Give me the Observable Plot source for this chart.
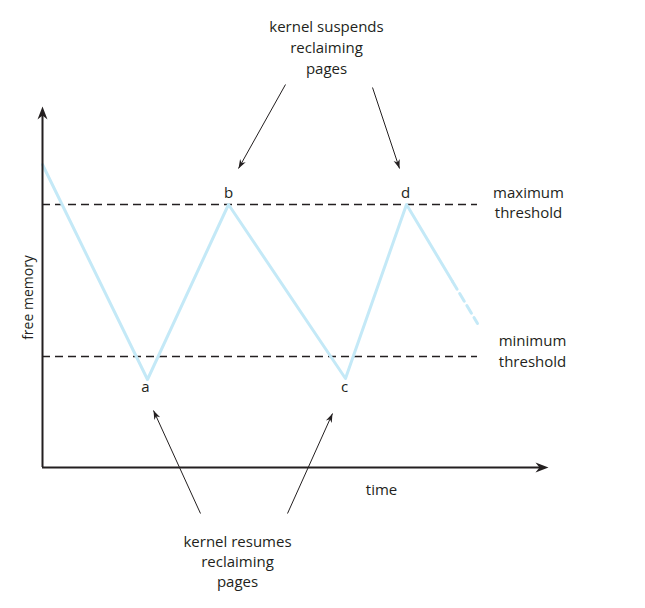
<!DOCTYPE html>
<html>
<head>
<meta charset="utf-8">
<script src="https://cdn.jsdelivr.net/npm/d3@7"></script>
<script src="https://cdn.jsdelivr.net/npm/@observablehq/plot@0.6"></script>
<style>
  html, body { margin: 0; padding: 0; background: #fff; }
  #chart svg { display: block; }
</style>
</head>
<body>
<div id="chart"></div>
<script>
// Free memory over time (abstract units)
const times  = [0, 10.5, 18.6, 30.3, 36.4, 41.0];
const memory = [30.3, 8.8, 26.3, 8.9, 26.3, 18.6];
// projected continuation (dashed)
const tailTimes  = [41.0, 43.5];
const tailMemory = [18.6, 14.4];

const maxThreshold = 26.3;
const minThreshold = 11.1;
const thresholdEnd = 43.5;

const axisTimeEnd = 50.6;
const axisMemoryEnd = 36.1;

// point labels
const pointLabels = ["a", "b", "c", "d"];
const pointLabelTimes = [10.3, 18.6, 30.2, 36.3];
const pointLabelMemory = [8.0, 27.4, 8.0, 27.4];

// annotation texts
const thresholdLabels = ["maximum\nthreshold", "minimum\nthreshold"];
const thresholdLabelTimes = [48.6, 49.0];
const thresholdLabelMemory = [26.6, 11.75];

const topNote = "kernel suspends\nreclaiming\npages";
const bottomNote = "kernel resumes\nreclaiming\npages";

// annotation arrows: [fromTime, fromMemory, toTime, toMemory]
const noteArrows = [
  [24.3, 38.3, 19.6, 29.9],
  [33.0, 38.0, 35.7, 29.9],
  [15.8, -4.6, 11.1, 5.7],
  [24.5, -4.6, 29.0, 5.4]
];

const ink = "#231f20";
const blue = "#c4e9f7";

const line = times.map((t, i) => ({t, m: memory[i]}));
const tail = tailTimes.map((t, i) => ({t, m: tailMemory[i]}));
const labels = pointLabels.map((s, i) => ({s, t: pointLabelTimes[i], m: pointLabelMemory[i]}));
const thLabels = thresholdLabels.map((s, i) => ({s, t: thresholdLabelTimes[i], m: thresholdLabelMemory[i]}));
const arrows = noteArrows.map(([x1, y1, x2, y2]) => ({x1, y1, x2, y2}));

// arrowhead symbol with tip at origin, pointing along (dx, dy) in screen space
function head(dx, dy, L, W) {
  const n = Math.hypot(dx, dy), ux = dx / n, uy = dy / n, px = -uy, py = ux;
  return {
    draw(ctx) {
      ctx.moveTo(0, 0);
      ctx.lineTo(-L * ux + W * px, -L * uy + W * py);
      ctx.lineTo(-0.7 * L * ux, -0.7 * L * uy);
      ctx.lineTo(-L * ux - W * px, -L * uy - W * py);
      ctx.closePath();
    }
  };
}

const headMarks = arrows.map(a =>
  Plot.dot([a], {x: "x2", y: "y2", symbol: head(a.x2 - a.x1, -(a.y2 - a.y1), 9, 3.2), fill: ink, stroke: "none", r: 1})
);

const chart = Plot.plot({
  width: 645,
  height: 608,
  marginLeft: 42,
  marginRight: 0,
  marginTop: 0,
  marginBottom: 141,
  x: {domain: [0, 60.3], axis: null},
  y: {domain: [0, 46.7], axis: null},
  style: {fontFamily: "'Open Sans', 'Noto Sans', sans-serif", color: ink, background: "#fff"},
  marks: [
    // thresholds
    Plot.ruleY([maxThreshold, minThreshold], {x1: 0, x2: thresholdEnd, stroke: ink, strokeWidth: 1.5, strokeDasharray: "8,5"}),
    // memory line
    Plot.line(line, {x: "t", y: "m", stroke: blue, strokeWidth: 3}),
    Plot.line(tail, {x: "t", y: "m", stroke: blue, strokeWidth: 3, strokeDasharray: "9,5"}),
    // axes
    Plot.ruleX([0], {y1: 0, y2: axisMemoryEnd - 0.8, stroke: ink, strokeWidth: 2}),
    Plot.ruleY([0], {x1: 0, x2: axisTimeEnd - 0.8, stroke: ink, strokeWidth: 2}),
    Plot.dot([{t: 0, m: axisMemoryEnd}], {x: "t", y: "m", symbol: head(0, -1, 13, 5), fill: ink, stroke: "none", r: 1}),
    Plot.dot([{t: axisTimeEnd, m: 0}], {x: "t", y: "m", symbol: head(1, 0, 13, 5), fill: ink, stroke: "none", r: 1}),
    // annotation arrows
    Plot.link(arrows, {x1: "x1", y1: "y1", x2: "x2", y2: "y2", stroke: ink, strokeWidth: 1}),
    ...headMarks,
    // labels
    Plot.text(labels, {x: "t", y: "m", text: "s", fontSize: 15, fill: ink}),
    Plot.text(thLabels, {x: "t", y: "m", text: "s", fontSize: 15, fill: ink, lineHeight: 1.35}),
    Plot.text([topNote], {x: 28.4, y: 42.1, text: d => d, fontSize: 15, fill: ink, lineHeight: 1.4}),
    Plot.text([bottomNote], {x: 19.5, y: -9.3, text: d => d, fontSize: 15, fill: ink, lineHeight: 1.35}),
    Plot.text(["time"], {x: 33.9, y: -2.3, text: d => d, fontSize: 15, fill: ink}),
    Plot.text(["free memory"], {x: -1.4, y: 17.0, text: d => d, fontSize: 14, fill: ink, rotate: -90})
  ]
});
document.getElementById("chart").append(chart);
</script>
</body>
</html>
